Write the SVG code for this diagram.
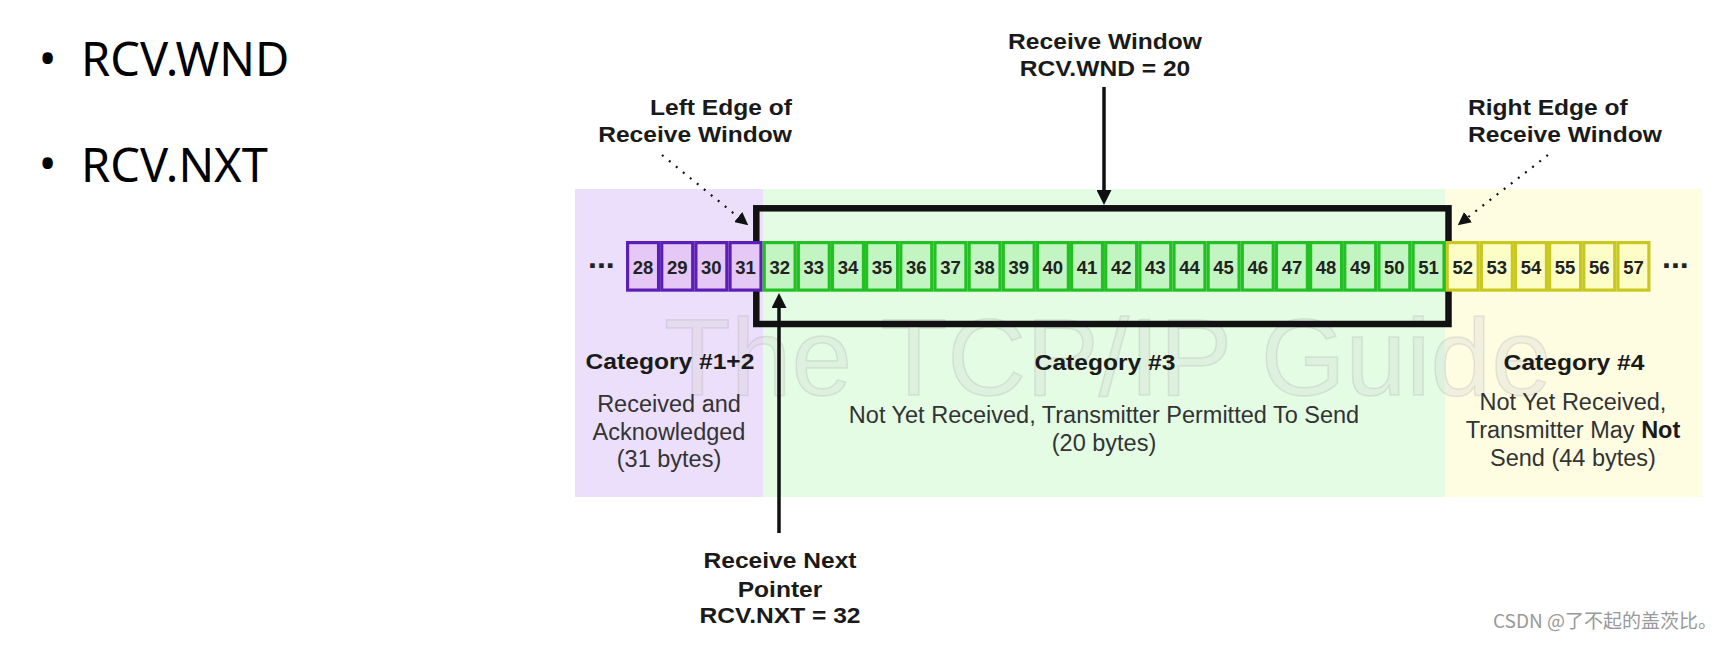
<svg xmlns="http://www.w3.org/2000/svg" width="1726" height="646" viewBox="0 0 1726 646">
<style>
.bul{font-family:"Noto Sans","Noto Sans CJK SC",sans-serif;font-size:47px;fill:#000}
.lb{font-family:"Liberation Sans",Arial,sans-serif;font-weight:bold;font-size:22px;fill:#1a1a1a}
.rg{font-family:"Liberation Sans",Arial,sans-serif;font-size:23.5px;fill:#333}
.num{font-family:"Liberation Sans",Arial,sans-serif;font-weight:bold;font-size:18.5px;fill:#222;text-anchor:middle}
.dots{font-family:"Liberation Sans",Arial,sans-serif;font-weight:bold;font-size:32px;fill:#222}
.cp{fill:#e6c8f6;stroke:#5c1fb5;stroke-width:3.2}
.cg{fill:#c2f5c2;stroke:#22c022;stroke-width:3.2}
.cy{fill:#fdfdc6;stroke:#c8c820;stroke-width:3.2}
.mid{text-anchor:middle}
.solid{stroke:#111;stroke-width:3.5;fill:none}
.dotted{stroke:#111;stroke-width:2.2;stroke-dasharray:2 7;fill:none}
</style>
<defs>
<marker id="ah" viewBox="0 0 10 10" refX="7.33" refY="5" markerWidth="15" markerHeight="15" markerUnits="userSpaceOnUse" orient="auto"><path d="M0,0 L10,5 L0,10 z" fill="#111"/></marker>
<marker id="ahs" viewBox="0 0 10 10" refX="6.67" refY="5" markerWidth="13" markerHeight="13" markerUnits="userSpaceOnUse" orient="auto"><path d="M0,0 L10,5 L0,10 z" fill="#111"/></marker>
</defs>
<rect width="1726" height="646" fill="#fff"/>

<g id="bullets">
<text class="bul" x="47.7" y="75" text-anchor="middle">•</text>
<text class="bul" x="81" y="76">RCV.WND</text>
<text class="bul" x="47.7" y="180" text-anchor="middle">•</text>
<text class="bul" x="81" y="181.7">RCV.NXT</text>
</g>

<g id="backgrounds">
<rect x="575" y="189" width="188" height="308" fill="#ebdffb"/>
<rect x="763" y="189" width="682" height="308" fill="#e3fce3"/>
<rect x="1445" y="189" width="257" height="308" fill="#fefde2"/>
</g>

<text x="664" y="395" font-family="'Liberation Sans',Arial,sans-serif" font-size="110" fill="#d4d4d4" fill-opacity="0.3" stroke="#9a9a9a" stroke-opacity="0.22" stroke-width="1.5" textLength="888" lengthAdjust="spacingAndGlyphs">The TCP/IP Guide</text>

<g id="receive-window-box">
<rect x="756.3" y="208.3" width="692.2" height="115.7" fill="none" stroke="#111" stroke-width="6.5"/>
</g>

<g id="bytes">
<text class="dots" x="588" y="268">...</text>
<rect class="cp" x="627.6" y="242.6" width="30.95" height="47.5"/><text class="num" x="643.08" y="273.5">28</text>
<rect class="cp" x="661.75" y="242.6" width="30.95" height="47.5"/><text class="num" x="677.23" y="273.5">29</text>
<rect class="cp" x="695.9" y="242.6" width="30.95" height="47.5"/><text class="num" x="711.38" y="273.5">30</text>
<rect class="cp" x="730.05" y="242.6" width="30.95" height="47.5"/><text class="num" x="745.53" y="273.5">31</text>
<rect class="cg" x="764.2" y="242.6" width="30.95" height="47.5"/><text class="num" x="779.68" y="273.5">32</text>
<rect class="cg" x="798.35" y="242.6" width="30.95" height="47.5"/><text class="num" x="813.83" y="273.5">33</text>
<rect class="cg" x="832.5" y="242.6" width="30.95" height="47.5"/><text class="num" x="847.98" y="273.5">34</text>
<rect class="cg" x="866.65" y="242.6" width="30.95" height="47.5"/><text class="num" x="882.13" y="273.5">35</text>
<rect class="cg" x="900.8" y="242.6" width="30.95" height="47.5"/><text class="num" x="916.28" y="273.5">36</text>
<rect class="cg" x="934.95" y="242.6" width="30.95" height="47.5"/><text class="num" x="950.43" y="273.5">37</text>
<rect class="cg" x="969.1" y="242.6" width="30.95" height="47.5"/><text class="num" x="984.58" y="273.5">38</text>
<rect class="cg" x="1003.25" y="242.6" width="30.95" height="47.5"/><text class="num" x="1018.73" y="273.5">39</text>
<rect class="cg" x="1037.4" y="242.6" width="30.95" height="47.5"/><text class="num" x="1052.88" y="273.5">40</text>
<rect class="cg" x="1071.55" y="242.6" width="30.95" height="47.5"/><text class="num" x="1087.03" y="273.5">41</text>
<rect class="cg" x="1105.7" y="242.6" width="30.95" height="47.5"/><text class="num" x="1121.18" y="273.5">42</text>
<rect class="cg" x="1139.85" y="242.6" width="30.95" height="47.5"/><text class="num" x="1155.33" y="273.5">43</text>
<rect class="cg" x="1174" y="242.6" width="30.95" height="47.5"/><text class="num" x="1189.48" y="273.5">44</text>
<rect class="cg" x="1208.15" y="242.6" width="30.95" height="47.5"/><text class="num" x="1223.63" y="273.5">45</text>
<rect class="cg" x="1242.3" y="242.6" width="30.95" height="47.5"/><text class="num" x="1257.78" y="273.5">46</text>
<rect class="cg" x="1276.45" y="242.6" width="30.95" height="47.5"/><text class="num" x="1291.93" y="273.5">47</text>
<rect class="cg" x="1310.6" y="242.6" width="30.95" height="47.5"/><text class="num" x="1326.08" y="273.5">48</text>
<rect class="cg" x="1344.75" y="242.6" width="30.95" height="47.5"/><text class="num" x="1360.23" y="273.5">49</text>
<rect class="cg" x="1378.9" y="242.6" width="30.95" height="47.5"/><text class="num" x="1394.38" y="273.5">50</text>
<rect class="cg" x="1413.05" y="242.6" width="30.95" height="47.5"/><text class="num" x="1428.53" y="273.5">51</text>
<rect class="cy" x="1447.2" y="242.6" width="30.95" height="47.5"/><text class="num" x="1462.68" y="273.5">52</text>
<rect class="cy" x="1481.35" y="242.6" width="30.95" height="47.5"/><text class="num" x="1496.83" y="273.5">53</text>
<rect class="cy" x="1515.5" y="242.6" width="30.95" height="47.5"/><text class="num" x="1530.98" y="273.5">54</text>
<rect class="cy" x="1549.65" y="242.6" width="30.95" height="47.5"/><text class="num" x="1565.13" y="273.5">55</text>
<rect class="cy" x="1583.8" y="242.6" width="30.95" height="47.5"/><text class="num" x="1599.28" y="273.5">56</text>
<rect class="cy" x="1617.95" y="242.6" width="30.95" height="47.5"/><text class="num" x="1633.43" y="273.5">57</text>
<text class="dots" x="1662" y="268">...</text>
</g>

<g id="connectors">
<line class="solid" x1="1104" y1="87" x2="1104" y2="201" marker-end="url(#ah)"/>
<line class="solid" x1="779" y1="533" x2="779" y2="297" marker-end="url(#ah)"/>
<line class="dotted" x1="662" y1="155" x2="744.9" y2="222.5" marker-end="url(#ahs)"/>
<line class="dotted" x1="1548" y1="155" x2="1461.2" y2="222.5" marker-end="url(#ahs)"/>
</g>

<g id="label-receive-window">
<g transform="translate(1105,0) scale(1.118,1)"><text class="lb mid" x="0" y="49.3">Receive Window</text><text class="lb mid" x="0" y="76">RCV.WND = 20</text></g>
</g>
<g id="label-left-edge">
<g transform="translate(792,0) scale(1.118,1)"><text class="lb" text-anchor="end" x="0" y="115">Left Edge of</text><text class="lb" text-anchor="end" x="0" y="141.7">Receive Window</text></g>
</g>
<g id="label-right-edge">
<g transform="translate(1468,0) scale(1.118,1)"><text class="lb" x="0" y="115">Right Edge of</text><text class="lb" x="0" y="141.7">Receive Window</text></g>
</g>
<g id="label-receive-next">
<g transform="translate(780,0) scale(1.118,1)"><text class="lb mid" x="0" y="568">Receive Next</text><text class="lb mid" x="0" y="597">Pointer</text><text class="lb mid" x="0" y="623">RCV.NXT = 32</text></g>
</g>

<g id="category-1-2">
<g transform="translate(670,0) scale(1.118,1)"><text class="lb mid" x="0" y="369">Category #1+2</text></g>
<text class="rg mid" x="669" y="412">Received and</text>
<text class="rg mid" x="669" y="440">Acknowledged</text>
<text class="rg mid" x="669" y="467">(31 bytes)</text>
</g>
<g id="category-3">
<g transform="translate(1105,0) scale(1.118,1)"><text class="lb mid" x="0" y="370">Category #3</text></g>
<text class="rg mid" x="1104" y="423">Not Yet Received, Transmitter Permitted To Send</text>
<text class="rg mid" x="1104" y="451">(20 bytes)</text>
</g>
<g id="category-4">
<g transform="translate(1574,0) scale(1.118,1)"><text class="lb mid" x="0" y="370">Category #4</text></g>
<text class="rg mid" x="1573" y="410">Not Yet Received,</text>
<text class="rg mid" x="1573" y="438">Transmitter May <tspan font-weight="bold" fill="#1a1a1a">Not</tspan></text>
<text class="rg mid" x="1573" y="466">Send (44 bytes)</text>
</g>

<text x="1493" y="628" font-family="'Noto Sans CJK SC','Noto Sans',sans-serif" font-size="19" fill="#999">CSDN @了不起的盖茨比。</text>
</svg>
